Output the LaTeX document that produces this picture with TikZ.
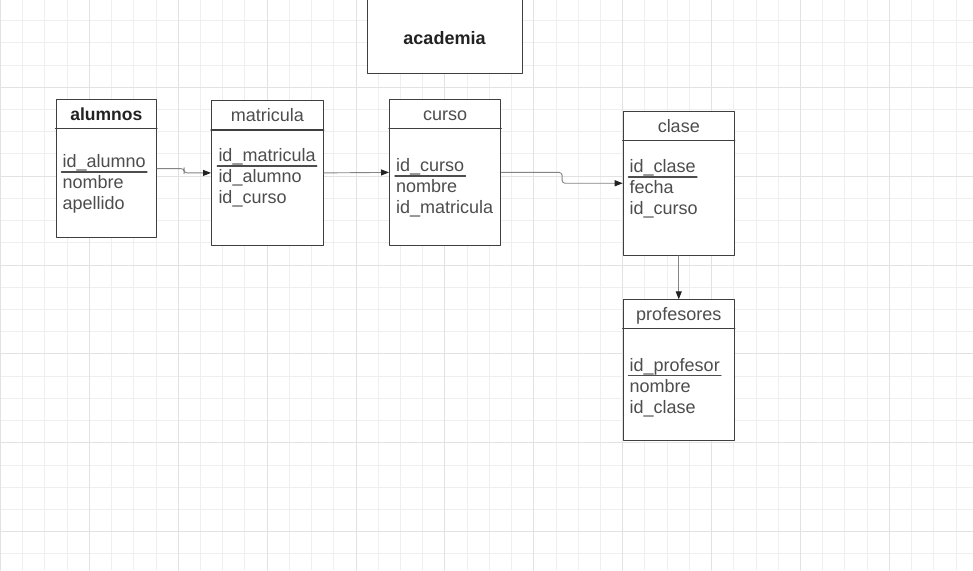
\documentclass[tikz,border=0pt]{standalone}
\usepackage{fontspec}
\setmainfont{Liberation Sans}
\usepackage{tikz}
\usetikzlibrary{arrows.meta,calc}
\definecolor{borde}{HTML}{3F3F3F}
\definecolor{letra}{HTML}{4D4D4D}
\definecolor{oscuro}{HTML}{222222}
\definecolor{malla}{HTML}{EFEFEF}
\definecolor{mallaM}{HTML}{E2E2E2}
\definecolor{enlacec}{HTML}{858585}
\tikzset{
  every picture/.style={line join=round, line cap=round, >=Stealth},
  tabla/.style={draw=borde, line width=1.1pt, fill=white, inner sep=0pt, anchor=north west},
  divisor/.style={draw=borde, line width=1.1pt},
  titulo/.style={text=letra, inner sep=0pt, anchor=base, font=\fontsize{18}{21}\selectfont},
  titulob/.style={text=oscuro, inner sep=0pt, anchor=base, font=\fontsize{17.5}{21}\selectfont\bfseries},
  campo/.style={text=letra, inner xsep=1pt, inner ysep=0pt, anchor=base west, font=\fontsize{18}{21}\selectfont},
  clave/.style={draw=letra, line width=1.4pt},
  enlace/.style={draw=enlacec, line width=0.9pt, rounded corners=3pt,
    -{Triangle[length=8pt,width=6pt,fill=oscuro,color=oscuro]}},
  rejilla/.style={draw=malla, line width=0.9pt},
  rejillaM/.style={draw=mallaM, line width=1pt},
}

\begin{document}
\begin{tikzpicture}[x=1pt,y=-1pt]
\useasboundingbox[fill=white](0,0) rectangle (973,570);
% fondo cuadriculado
\foreach \i in {0,...,43}
  \draw[rejilla]({0.5+22.22*\i},0)--({0.5+22.22*\i},570);
\foreach \j in {0,...,25}
  \draw[rejilla](0,{-1.6+22.22*\j})--(973,{-1.6+22.22*\j});
\foreach \i in {0,4,...,40}
  \draw[rejillaM]({0.5+22.22*\i},0)--({0.5+22.22*\i},570);
\foreach \j in {0,4,...,24}
  \draw[rejillaM](0,{-1.6+22.22*\j})--(973,{-1.6+22.22*\j});

% titulo
\node[tabla, minimum width=155pt, minimum height=100pt, anchor=south west] (academia) at (367,74) {};
\node[titulob, font=\fontsize{18}{21}\selectfont\bfseries] (academiaT) at (444.5,44) {academia};

% tablas
\node[tabla, minimum width=100.5pt, minimum height=138pt] (alumnos) at (55.5,99) {};
\node[tabla, minimum width=111.7pt, minimum height=144.7pt] (matricula) at (211,100) {};
\node[tabla, minimum width=111.3pt, minimum height=145.7pt] (curso) at (389,99) {};
\node[tabla, minimum width=111pt, minimum height=144pt] (clase) at (622.7,110.7) {};
\node[tabla, minimum width=111pt, minimum height=140.7pt] (profesores) at (622.7,299.3) {};

\draw[divisor](alumnos.west|-0,128.3)--(alumnos.east|-0,128.3);
\draw[divisor](matricula.west|-0,130)--(matricula.east|-0,130);
\draw[divisor](curso.west|-0,128.3)--(curso.east|-0,128.3);
\draw[divisor](clase.west|-0,140.3)--(clase.east|-0,140.3);
\draw[divisor](profesores.west|-0,328.7)--(profesores.east|-0,328.7);

\node[titulob] (alumnosT) at (alumnos.north|-0,120.5) {alumnos};
\node[titulo] (matriculaT) at (matricula.north|-0,121.5) {matricula};
\node[titulo] (cursoT) at (curso.north|-0,120.5) {curso};
\node[titulo] (claseT) at (clase.north|-0,132) {clase};
\node[titulo] (profesoresT) at (profesores.north|-0,320.5) {profesores};

% campos
\node[campo] (alumnosA) at (61.5,167.5) {id\_alumno};
\node[campo] (alumnosB) at (61.5,188.5) {nombre};
\node[campo] (alumnosC) at (61.5,209.5) {apellido};
\node[campo] (matriculaA) at (217.3,161.5) {id\_matricula};
\node[campo] (matriculaB) at (217.3,182.5) {id\_alumno};
\node[campo] (matriculaC) at (217.3,203.5) {id\_curso};
\node[campo] (cursoA) at (395,171.5) {id\_curso};
\node[campo] (cursoB) at (395,192.5) {nombre};
\node[campo] (cursoC) at (395,213.5) {id\_matricula};
\node[campo] (claseA) at (628.5,172.5) {id\_clase};
\node[campo] (claseB) at (628.5,193.5) {fecha};
\node[campo] (claseC) at (628.5,214.5) {id\_curso};
\node[campo] (profesoresA) at (628.5,371) {id\_profesor};
\node[campo] (profesoresB) at (628.5,392) {nombre};
\node[campo] (profesoresC) at (628.5,413) {id\_clase};

% claves primarias
\foreach \c in {alumnosA,matriculaA,cursoA,claseA,profesoresA}
  \draw[clave]([yshift=-4.6pt]\c.base west)--([yshift=-4.6pt]\c.base east);

% relaciones
\draw[enlace](alumnos.east)-|($(alumnos.east)!.5!(matricula.west)$)|-(matricula.west);
\draw[enlace](matricula.east)--(curso.west);
\draw[enlace](curso.east)-|($(curso.east)!.5!(clase.west)$)|-(clase.west);
\draw[enlace](clase.south)--(profesores.north);
\end{tikzpicture}
\end{document}
